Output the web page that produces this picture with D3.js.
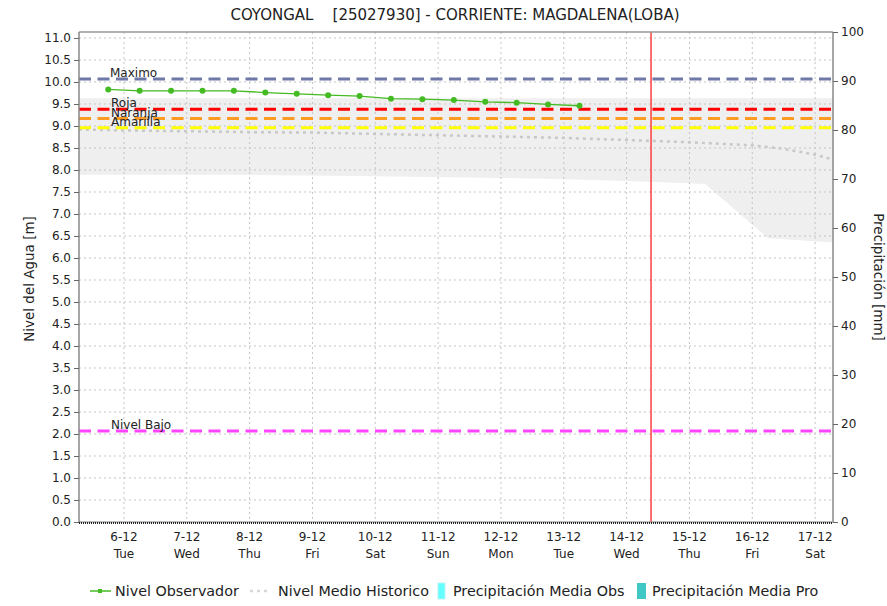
<!DOCTYPE html>
<html>
<head>
<meta charset="utf-8">
<script src="https://cdn.jsdelivr.net/npm/d3@7"></script>
<style>
  body { margin: 0; background: #fff; }
  text { font-family: "DejaVu Sans", Verdana, sans-serif; fill: #222; }
</style>
</head>
<body>
<div id="chart"></div>
<script>
// observed level, every 12h
const obsTimes = ["2022-12-05T18:00", "2022-12-06T06:00", "2022-12-06T18:00", "2022-12-07T06:00",
  "2022-12-07T18:00", "2022-12-08T06:00", "2022-12-08T18:00", "2022-12-09T06:00",
  "2022-12-09T18:00", "2022-12-10T06:00", "2022-12-10T18:00", "2022-12-11T06:00",
  "2022-12-11T18:00", "2022-12-12T06:00", "2022-12-12T18:00", "2022-12-13T06:00"];
const obsLevels = [9.83, 9.80, 9.80, 9.80, 9.80, 9.76, 9.73, 9.70, 9.68, 9.62, 9.61, 9.59, 9.55, 9.53, 9.49, 9.46];

// historic mean level
const histTimes = ["2022-12-05T06:50", "2022-12-06T00:00", "2022-12-07T00:00", "2022-12-08T00:00",
  "2022-12-09T00:00", "2022-12-10T00:00", "2022-12-11T00:00", "2022-12-12T00:00",
  "2022-12-13T00:00", "2022-12-14T00:00", "2022-12-15T00:00", "2022-12-16T00:00",
  "2022-12-16T12:00", "2022-12-17T00:00", "2022-12-17T06:00"];
const histMean = [8.92, 8.90, 8.88, 8.86, 8.85, 8.82, 8.79, 8.76, 8.73, 8.68, 8.63, 8.56, 8.48, 8.35, 8.25];

// historic range band
const bandTimes = ["2022-12-05T06:50", "2022-12-08T00:00", "2022-12-10T00:00", "2022-12-12T00:00",
  "2022-12-13T00:00", "2022-12-14T00:00", "2022-12-15T00:00", "2022-12-15T06:00",
  "2022-12-16T06:00", "2022-12-17T06:50"];
const bandLow = [7.89, 7.89, 7.86, 7.82, 7.79, 7.75, 7.70, 7.68, 6.45, 6.35];
const bandHigh = [9.63, 9.63, 9.63, 9.63, 9.63, 9.63, 9.63, 9.63, 9.63, 9.63];

// alert thresholds
const thresholdNames = ["Maximo", "Roja", "Naranja", "Amarilla", "Nivel Bajo"];
const thresholdValues = [10.07, 9.38, 9.17, 8.96, 2.07];
const thresholdColors = ["#6f79a8", "#ff0000", "#ff9a22", "#ffff00", "#ff44ff"];

const nowTime = "2022-12-14T09:20";
const dayTicks = ["2022-12-06", "2022-12-07", "2022-12-08", "2022-12-09", "2022-12-10", "2022-12-11",
  "2022-12-12", "2022-12-13", "2022-12-14", "2022-12-15", "2022-12-16", "2022-12-17"];
const weekdays = ["Sun", "Mon", "Tue", "Wed", "Thu", "Fri", "Sat"];
const levelTicks = d3.range(0, 11.01, 0.5);
const precipTicks = d3.range(0, 101, 10);

const W = 887, H = 606;
const margin = { top: 32, right: 54, bottom: 84, left: 79 };
const width = W - margin.left - margin.right,
  height = H - margin.top - margin.bottom;

const parse = s => new Date(s);

const svg = d3.select("#chart").append("svg")
  .attr("width", W).attr("height", H);

const g = svg.append("g")
  .attr("transform", "translate(" + margin.left + "," + margin.top + ")");

const x = d3.scaleTime()
  .domain([parse("2022-12-05T06:50"), parse("2022-12-17T06:50")])
  .range([0, width]);
const y = d3.scaleLinear().domain([0, 11.136]).range([height, 0]);
const y2 = d3.scaleLinear().domain([0, 100]).range([height, 0]);

// band
const band = bandTimes.map((t, i) => ({ t: parse(t), lo: bandLow[i], hi: bandHigh[i] }));
g.append("path")
  .datum(band)
  .attr("fill", "#efefef")
  .attr("d", d3.area().x(d => x(d.t)).y0(d => y(d.lo)).y1(d => y(d.hi)));

// grid
g.append("g").selectAll("line").data(levelTicks).enter().append("line")
  .attr("x1", 0).attr("x2", width)
  .attr("y1", d => y(d)).attr("y2", d => y(d))
  .attr("stroke", "#c4c4c4").attr("stroke-dasharray", "2,3");
g.append("g").selectAll("line").data(dayTicks).enter().append("line")
  .attr("x1", d => x(parse(d + "T00:00"))).attr("x2", d => x(parse(d + "T00:00")))
  .attr("y1", 0).attr("y2", height)
  .attr("stroke", "#c4c4c4").attr("stroke-dasharray", "2,3");

// historic mean
const hist = histTimes.map((t, i) => ({ t: parse(t), v: histMean[i] }));
g.append("path")
  .datum(hist)
  .attr("fill", "none")
  .attr("stroke", "#c8c8c8").attr("stroke-width", 2.5)
  .attr("stroke-dasharray", "3,4")
  .attr("d", d3.line().x(d => x(d.t)).y(d => y(d.v)));

// thresholds
thresholdValues.forEach((v, i) => {
  g.append("line")
    .attr("x1", 0).attr("x2", width)
    .attr("y1", y(v)).attr("y2", y(v))
    .attr("stroke", thresholdColors[i]).attr("stroke-width", 3)
    .attr("stroke-dasharray", "12,6.5");
});
thresholdValues.forEach((v, i) => {
  g.append("text")
    .attr("x", i == 0 ? 31 : 32)
    .attr("y", y(v) - 2)
    .style("font-size", "12px")
    .text(thresholdNames[i]);
});

// observed
const obs = obsTimes.map((t, i) => ({ t: parse(t), v: obsLevels[i] }));
g.append("path")
  .datum(obs)
  .attr("fill", "none")
  .attr("stroke", "#44bb22").attr("stroke-width", 1.3)
  .attr("d", d3.line().x(d => x(d.t)).y(d => y(d.v)));
g.append("g").selectAll("circle").data(obs).enter().append("circle")
  .attr("cx", d => x(d.t)).attr("cy", d => y(d.v))
  .attr("r", 3).attr("fill", "#44bb22");

// now line
g.append("line")
  .attr("x1", x(parse(nowTime))).attr("x2", x(parse(nowTime)))
  .attr("y1", 0).attr("y2", height)
  .attr("stroke", "#ff3030").attr("stroke-width", 1.4);

// frame
g.append("line").attr("x1", 0).attr("x2", width).attr("y1", 0).attr("y2", 0)
  .attr("stroke", "#999").attr("stroke-width", 1.5);

// axes
const yAxis = g.append("g")
  .call(d3.axisLeft(y).tickValues(levelTicks).tickFormat(d3.format(".1f")).tickSize(5).tickPadding(3));
const y2Axis = g.append("g").attr("transform", "translate(" + width + ",0)")
  .call(d3.axisRight(y2).tickValues(precipTicks).tickSize(5).tickPadding(3));
[yAxis, y2Axis].forEach(a => {
  a.select(".domain").attr("stroke", "#888").attr("stroke-width", 1.5)
    .attr("d", "M0,0V" + height);
  a.selectAll(".tick line").attr("stroke", "#666");
  a.selectAll("text").style("font-size", "12px").style("fill", "#222")
    .style("font-family", "'DejaVu Sans', sans-serif");
});

// bottom: dotted zero line
g.append("line").attr("x1", 0).attr("x2", width).attr("y1", height).attr("y2", height)
  .attr("stroke", "#888").attr("stroke-width", 1);
g.append("line").attr("x1", 0).attr("x2", width).attr("y1", height + 1).attr("y2", height + 1)
  .attr("stroke", "#222").attr("stroke-width", 2).attr("stroke-dasharray", "1,1");

const xTicks = g.append("g").attr("transform", "translate(0," + height + ")")
  .selectAll("g").data(dayTicks).enter().append("g")
  .attr("transform", d => "translate(" + x(parse(d + "T00:00")) + ",0)");
xTicks.append("text").attr("text-anchor", "middle").attr("y", 19)
  .style("font-size", "12px")
  .text(d => { const dt = parse(d + "T00:00"); return dt.getDate() + "-" + (dt.getMonth() + 1); });
xTicks.append("text").attr("text-anchor", "middle").attr("y", 36)
  .style("font-size", "12px")
  .text(d => weekdays[parse(d + "T00:00").getDay()]);

// title and axis labels
svg.append("text").attr("x", 455).attr("y", 20).attr("text-anchor", "middle")
  .style("font-size", "15px").attr("xml:space", "preserve")
  .text("COYONGAL    [25027930] - CORRIENTE: MAGDALENA(LOBA)");
svg.append("text").attr("transform", "translate(34,279) rotate(-90)")
  .attr("text-anchor", "middle").style("font-size", "13.5px")
  .text("Nivel del Agua [m]");
svg.append("text").attr("transform", "translate(874,277) rotate(90)")
  .attr("text-anchor", "middle").style("font-size", "13.5px")
  .text("Precipitación [mm]");

// legend
const lg = svg.append("g").attr("transform", "translate(0,591)");
lg.append("line").attr("x1", 90).attr("x2", 111).attr("y1", 0).attr("y2", 0)
  .attr("stroke", "#44bb22").attr("stroke-width", 1.5);
lg.append("rect").attr("x", 98).attr("y", -2).attr("width", 4).attr("height", 4).attr("fill", "#44bb22");
lg.append("text").attr("x", 115).attr("y", 5).style("font-size", "14.3px").text("Nivel Observador");
lg.append("line").attr("x1", 250).attr("x2", 270).attr("y1", 0).attr("y2", 0)
  .attr("stroke", "#d8d8d8").attr("stroke-width", 2.5).attr("stroke-dasharray", "3,4");
lg.append("text").attr("x", 278).attr("y", 5).style("font-size", "14.3px").text("Nivel Medio Historico");
lg.append("rect").attr("x", 438).attr("y", -8).attr("width", 7).attr("height", 16)
  .attr("fill", "#66ffff").attr("stroke", "#b8f4f4");
lg.append("text").attr("x", 453).attr("y", 5).style("font-size", "14.3px").text("Precipitación Media Obs");
lg.append("rect").attr("x", 637).attr("y", -8).attr("width", 9).attr("height", 16)
  .attr("fill", "#40c8c4");
lg.append("text").attr("x", 652).attr("y", 5).style("font-size", "14.3px").text("Precipitación Media Pro");
</script>
</body>
</html>
